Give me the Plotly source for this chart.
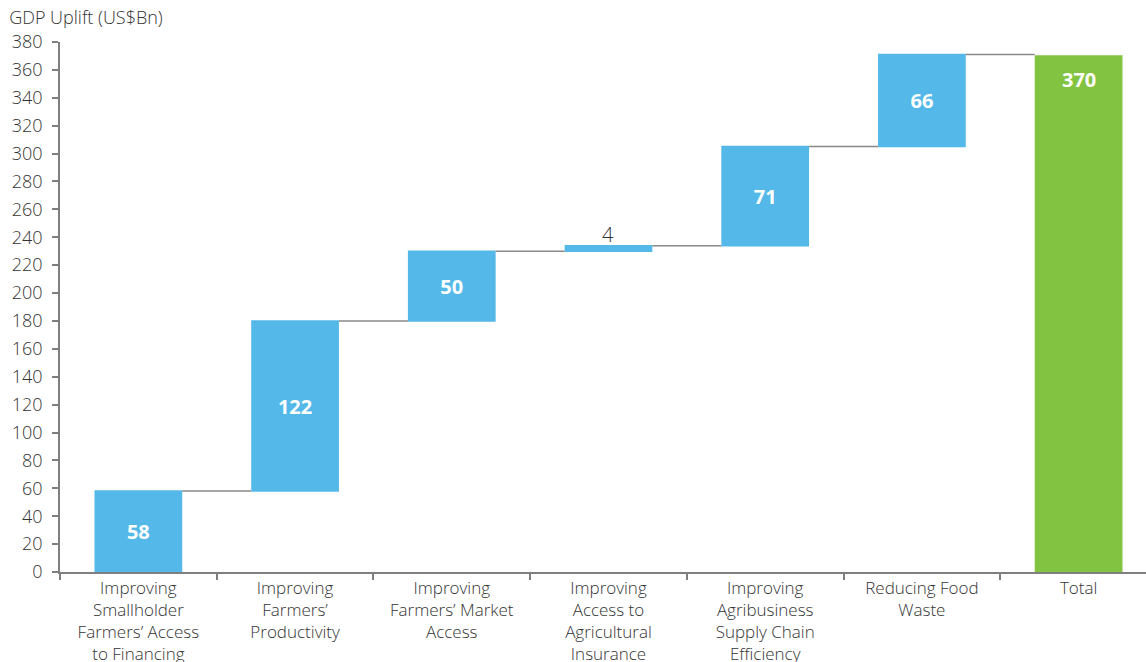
import plotly.graph_objects as go

categories = [
    "Improving<br>Smallholder<br>Farmers’ Access<br>to Financing",
    "Improving<br>Farmers’<br>Productivity",
    "Improving<br>Farmers’ Market<br>Access",
    "Improving<br>Access to<br>Agricultural<br>Insurance",
    "Improving<br>Agribusiness<br>Supply Chain<br>Efficiency",
    "Reducing Food<br>Waste",
    "Total",
]
values = [58, 122, 50, 4, 71, 66, 370]
measures = ["relative"] * 6 + ["absolute"]
labels = ["58", "122", "50", "", "71", "66", ""]
small_label = "4"
total_label = "370"

FONT = "Open Sans"
BLUE = "#54B9E8"
GREEN = "#82C341"
AXIS = "#7f7f7f"
TXT = "#333333"

fig = go.Figure()
fig.add_trace(go.Waterfall(
    x=categories,
    y=values,
    measure=measures,
    text=labels,
    textposition="inside",
    insidetextanchor="middle",
    insidetextfont=dict(family=FONT, size=20, color="white", weight="bold"),
    increasing=dict(marker=dict(color=BLUE)),
    decreasing=dict(marker=dict(color=BLUE)),
    totals=dict(marker=dict(color=GREEN)),
    connector=dict(mode="between", line=dict(color="#888888", width=1.5)),
    width=0.56,
    cliponaxis=False,
    showlegend=False,
    hoverinfo="x+y",
))

cum4 = sum(values[:4])
fig.add_annotation(
    x=categories[3], y=cum4, xref="x", yref="y",
    text=small_label, showarrow=False, yanchor="bottom", yshift=-4,
    font=dict(family=FONT, size=20, color=TXT, weight=300),
)
fig.add_annotation(
    x=categories[-1], y=values[-1], xref="x", yref="y",
    text=total_label, showarrow=False, yanchor="top", yshift=-8,
    font=dict(family=FONT, size=20, color="white", weight="bold"),
)

fig.update_layout(
    width=1146, height=662,
    margin=dict(l=60, r=0, t=42, b=90),
    plot_bgcolor="white", paper_bgcolor="white",
    font=dict(family=FONT, size=18, color=TXT, weight=300),
    title=dict(
        text="GDP Uplift (US$Bn)", xref="container", yref="container",
        x=0.008, y=1 - 18 / 662, xanchor="left", yanchor="middle",
        font=dict(family=FONT, size=18, color=TXT, weight=300),
    ),
    xaxis=dict(
        range=[-0.5, 6.43], showline=True, linecolor=AXIS, linewidth=1.5,
        ticks="outside", tickson="boundaries", ticklen=6, tickcolor=AXIS,
        tickwidth=1.5, showgrid=False, zeroline=False, automargin=False,
        tickfont=dict(family=FONT, size=17, color=TXT, weight=300),
    ),
    yaxis=dict(
        range=[0, 380], dtick=20, showline=True, linecolor=AXIS, linewidth=1.5,
        ticks="outside", ticklen=6, tickcolor=AXIS, tickwidth=1.5,
        showgrid=False, zeroline=False, ticklabelstandoff=6, automargin=False,
        tickfont=dict(family=FONT, size=18, color=TXT, weight=300),
    ),
)

fig.write_html("out.html")
